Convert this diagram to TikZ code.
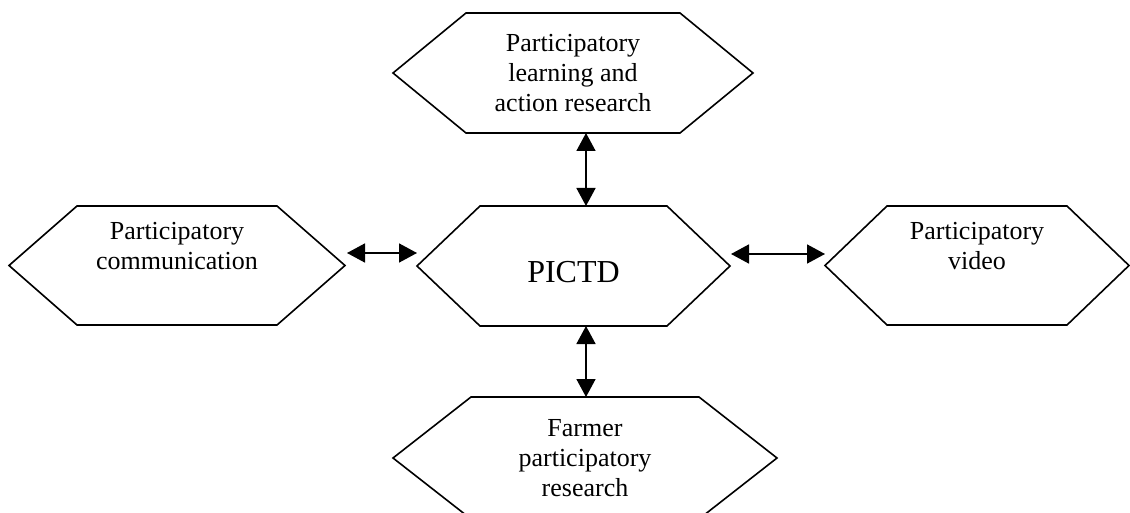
\documentclass[tikz,border=0pt]{standalone}
\usepackage{fontspec}
\setmainfont{Liberation Serif}
\usetikzlibrary{arrows.meta}
\newcommand{\hexdraw}[2]{\draw[hexline] (#1.west) -- ([xshift=#2]#1.north west) -- ([xshift=-#2]#1.north east) -- (#1.east) -- ([xshift=-#2]#1.south east) -- ([xshift=#2]#1.south west) -- cycle;}
\begin{document}
\begin{tikzpicture}[x=1pt,y=-1pt,
  hexbox/.style={inner sep=0pt, outer sep=0pt, align=center, font=\fontsize{26}{30}\selectfont},
  link/.style={line width=1.6pt, {Triangle[length=18pt,width=19pt]}-{Triangle[length=18pt,width=19pt]}},
  hexline/.style={line width=1.6pt, line join=miter}]
\clip (0,0) rectangle (1130,513);
\fill[white] (0,0) rectangle (1130,513);

\node[hexbox, minimum width=360pt, minimum height=120pt] (plar) at (573,73) {Participatory\\learning and\\action research};
\node[hexbox, minimum width=313pt, minimum height=120pt, font=\fontsize{32}{36}\selectfont, text height=34pt, text depth=0pt] (pictd) at (573.5,266) {PICTD};
\node[hexbox, minimum width=336pt, minimum height=119pt] (pcom) at (177,265.5) {Participatory\\communication\\\strut};
\node[hexbox, minimum width=304pt, minimum height=119pt] (pvid) at (977,265.5) {Participatory\\video\\\strut};
\node[hexbox, minimum width=384pt, minimum height=122pt] (fpr) at (585,458) {Farmer\\participatory\\research};

\hexdraw{plar}{73pt}
\hexdraw{pictd}{63pt}
\hexdraw{pcom}{68pt}
\hexdraw{pvid}{62pt}
\hexdraw{fpr}{78pt}

\draw[link] ([xshift=13pt]plar.south) -- ([xshift=12.5pt]pictd.north);
\draw[link] ([xshift=12.5pt]pictd.south) -- ([xshift=1pt]fpr.north);
\draw[link] ([xshift=2pt,yshift=12.5pt]pcom.east) -- ([yshift=13pt]pictd.west);
\draw[link] ([xshift=1pt,yshift=12pt]pictd.east) -- ([yshift=11.5pt]pvid.west);
\end{tikzpicture}
\end{document}
